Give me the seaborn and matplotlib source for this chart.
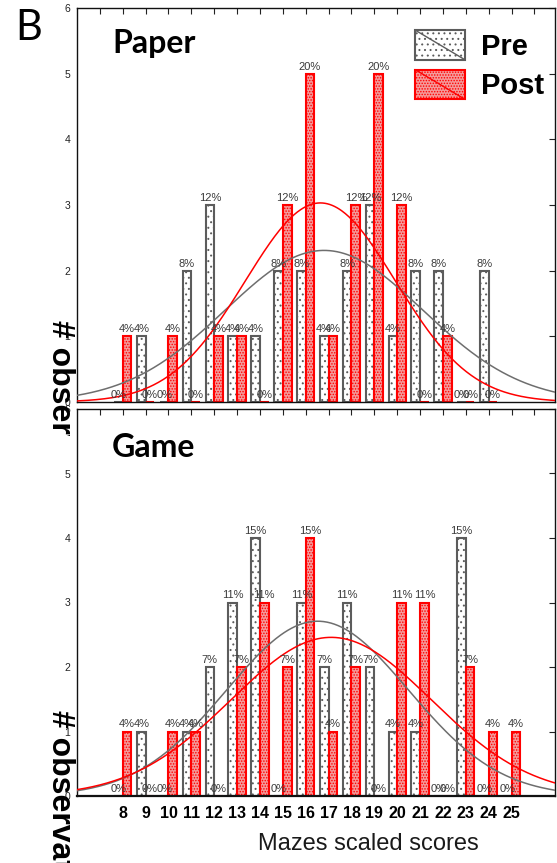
import numpy as np
import pandas as pd
import matplotlib
matplotlib.use("Agg")
import matplotlib.pyplot as plt
import seaborn as sns
from matplotlib.patches import Patch, Rectangle
from matplotlib.lines import Line2D
from matplotlib.legend_handler import HandlerBase
from matplotlib.transforms import Bbox, TransformedBbox

# Frequencies of the Mazes scaled scores (number of observations per score)
paper_scores = list(range(8, 25))
paper_pre = [0, 1, 0, 2, 3, 1, 1, 2, 2, 1, 2, 3, 1, 2, 2, 0, 2]
paper_post = [1, 0, 1, 0, 1, 1, 0, 3, 5, 1, 3, 5, 3, 0, 1, 0, 0]

game_scores = list(range(8, 26))
game_pre = [0, 1, 0, 1, 2, 3, 4, 0, 3, 2, 3, 2, 1, 1, 0, 4, 0, 0]
game_post = [1, 0, 1, 1, 0, 2, 3, 2, 4, 1, 2, 0, 3, 3, 0, 2, 1, 1]

phases = ["Pre", "Post"]
panel_titles = ["Paper", "Game"]
tick_labels = [str(s) for s in range(8, 26)]

PRE_EDGE = "#5c5c5c"
POST_EDGE = "#ff0000"
POST_FACE = "#f49a9a"
PRE_CURVE = "#6e6e6e"
NARROW = ["Liberation Sans Narrow", "Liberation Sans", "DejaVu Sans"]
ARIAL = ["Liberation Sans", "DejaVu Sans"]

sns.set_style("white")
plt.rcParams["hatch.linewidth"] = 0.7
plt.rcParams["text.color"] = "black"
plt.rcParams["axes.labelcolor"] = "black"

W, H = 557, 863
fig = plt.figure(figsize=(W / 100, H / 100), dpi=100)
ax_top = fig.add_axes([77 / W, 1 - 402 / H, 478 / W, 394 / H])
ax_bot = fig.add_axes([77 / W, 1 - 796 / H, 478 / W, 387 / H])

XMIN, XMAX = 6.0, 26.9


def long_table(scores, pre, post):
    n = len(scores)
    return pd.DataFrame({
        "score": scores + scores,
        "count": pre + post,
        "phase": ["Pre"] * n + ["Post"] * n,
    })


def normal_fit(scores, counts, grid):
    vals = np.repeat(scores, counts).astype(float)
    mu, sd = vals.mean(), vals.std(ddof=1)
    return len(vals) * np.exp(-0.5 * ((grid - mu) / sd) ** 2) / (sd * np.sqrt(2 * np.pi))


def pct_labels(counts):
    total = sum(counts)
    return [f"{int(100 * c / total + 0.5)}%" for c in counts]


def draw_panel(ax, scores, pre, post, title, title_y):
    df = long_table(scores, pre, post)
    sns.barplot(data=df, x="score", y="count", hue="phase", hue_order=phases,
                native_scale=True, width=0.76, saturation=1,
                palette={"Pre": "white", "Post": POST_FACE},
                errorbar=None, legend=False, ax=ax, zorder=2)
    pre_bars, post_bars = ax.containers[0], ax.containers[1]
    for bar in pre_bars:
        bar.set_edgecolor(PRE_EDGE)
        bar.set_hatch("...")
        bar.set_linewidth(1.5)
    for bar in post_bars:
        bar.set_edgecolor(POST_EDGE)
        bar.set_hatch("......")
        bar.set_linewidth(1.5)
    for cont, counts in ((pre_bars, pre), (post_bars, post)):
        ax.bar_label(cont, labels=pct_labels(counts), padding=1.5,
                     fontsize=8, color="#3a3a3a", family=ARIAL, zorder=4)

    grid = np.linspace(XMIN, XMAX, 400)
    curves = pd.DataFrame({
        "x": np.r_[grid, grid],
        "y": np.r_[normal_fit(scores, pre, grid), normal_fit(scores, post, grid)],
        "phase": ["Pre"] * len(grid) + ["Post"] * len(grid),
    })
    sns.lineplot(data=curves, x="x", y="y", hue="phase", hue_order=phases,
                 palette={"Pre": PRE_CURVE, "Post": "red"}, linewidth=1.1,
                 legend=False, ax=ax, zorder=3)

    ax.set_xlim(XMIN, XMAX)
    ax.set_ylim(0, 6)
    ax.set_yticks(range(7))
    ax.set_xticks(range(7, 27))
    ax.tick_params(direction="in", top=True, right=True, length=4, width=0.8,
                   color="#222222")
    ax.tick_params(axis="y", labelsize=7.5, labelcolor="#222222", pad=5)
    for lab in ax.get_yticklabels():
        lab.set_family(ARIAL)
    for sp in ax.spines.values():
        sp.set_linewidth(1.0)
        sp.set_color("#111111")
    ax.set_xlabel("")
    ax.set_ylabel("")
    ax.text(0.073, title_y, title, transform=ax.transAxes, family="Lato",
            fontweight="bold", fontsize=23, va="baseline", ha="left",
            color="black")


draw_panel(ax_top, paper_scores, paper_pre, paper_post, panel_titles[0], 0.886)
draw_panel(ax_bot, game_scores, game_pre, game_post, panel_titles[1], 0.876)

ax_top.set_xticklabels([""] * 20)
ax_bot.set_xticklabels([""] + tick_labels + [""])
ax_bot.tick_params(axis="x", labelsize=11.5, pad=7, labelcolor="black")
for lab in ax_bot.get_xticklabels():
    lab.set_family(NARROW)
    lab.set_fontweight("bold")
ax_bot.spines["bottom"].set_linewidth(1.6)
ax_bot.set_xlabel("Mazes scaled scores", fontsize=17, family=NARROW, color="#1a1a1a")
ax_bot.xaxis.set_label_coords(0.609, -0.095)


class SwatchHandler(HandlerBase):
    def create_artists(self, legend, orig_handle, xdescent, ydescent, width,
                       height, fontsize, trans):
        x0, y0 = -xdescent, -ydescent
        box = Rectangle((x0, y0), width, height,
                        facecolor=orig_handle.get_facecolor(),
                        edgecolor=orig_handle.get_edgecolor(),
                        hatch=orig_handle.get_hatch(),
                        linewidth=orig_handle.get_linewidth(), transform=trans)
        diag = Line2D([x0, x0 + width], [y0 + height, y0],
                      color=orig_handle.get_edgecolor(), linewidth=1.0,
                      transform=trans)
        return [box, diag]


handles = [
    Patch(facecolor="white", edgecolor=PRE_EDGE, hatch="...", linewidth=1.5, label="Pre"),
    Patch(facecolor=POST_FACE, edgecolor=POST_EDGE, hatch="......", linewidth=1.5, label="Post"),
]
ax_top.legend(handles=handles, loc="upper left", bbox_to_anchor=(415 / W, 1 - 30 / H),
              bbox_transform=fig.transFigure, frameon=False, borderpad=0,
              borderaxespad=0, handler_map={Patch: SwatchHandler()},
              handlelength=1.72, handleheight=1.2, handletextpad=0.55,
              labelspacing=0.3, labelcolor="black",
              prop={"family": ARIAL, "weight": "bold", "size": 21})

# Panel letter
fig.text(15 / W, 1 - 40 / H, "B", fontsize=30, family="Lato", va="baseline",
         ha="left", color="black")

# Y-axis titles, each confined to its own panel strip
for y_start, y_clip in ((320, 436), (710, H)):
    t = fig.text(60 / W, 1 - y_start / H, "# observations", rotation=-90,
                 ha="center", va="top", fontsize=23, fontweight="bold",
                 family=ARIAL, color="black")
    t.set_clip_box(TransformedBbox(Bbox.from_extents(0, 1 - y_clip / H, 1, 1), fig.transFigure))
    t.set_clip_on(True)

fig.savefig("out.png", dpi=100)
